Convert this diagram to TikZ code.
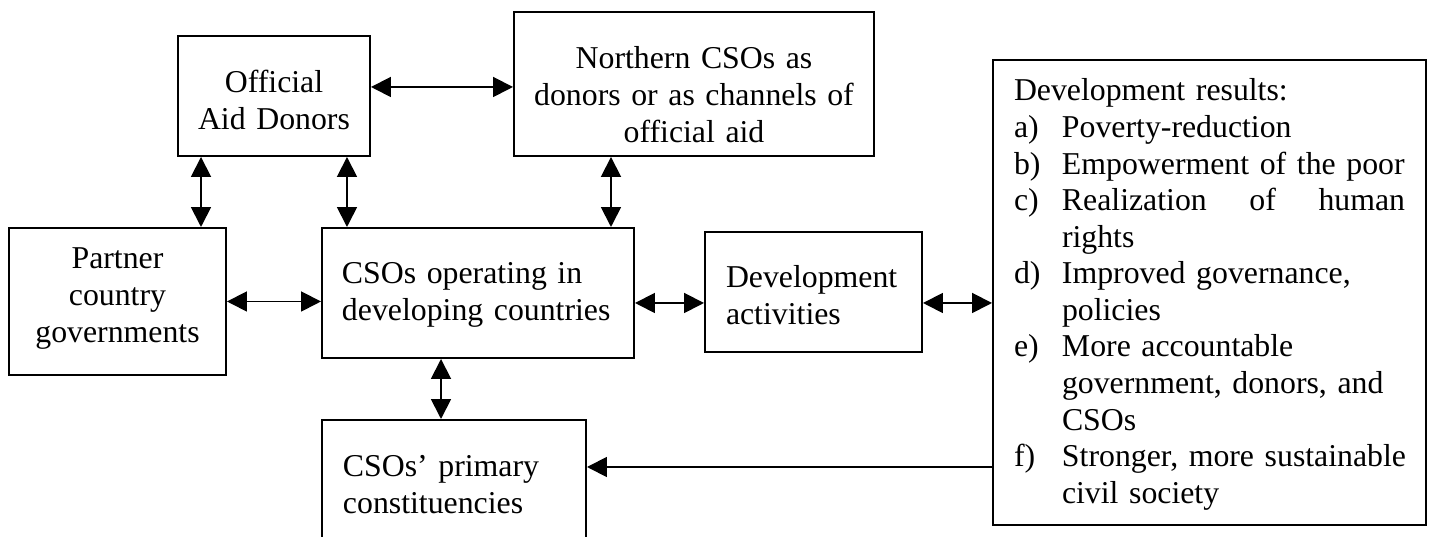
\documentclass[tikz,border=0pt]{standalone}
\usepackage{fontspec}
\setmainfont{Liberation Serif}
\usetikzlibrary{arrows.meta,calc}
\newlength\pxl
\setlength\pxl{0.3774pt}
\newcommand\topr[1]{\rule{0pt}{#1\pxl}}
\newcommand\botr[1]{\rule[-#1\pxl]{0pt}{#1\pxl}}
\newcommand\lab[1]{\makebox[48\pxl][l]{#1}}
\newcommand\itm[2]{\mbox{\lab{#1}#2}}
\tikzset{
  box/.style={draw, line width=0.75pt, rectangle, anchor=north west, inner ysep=0pt,
    font=\fontsize{12pt}{13.8pt}\selectfont},
  conn/.style={line width=0.7pt, <->},
  conn1/.style={line width=0.7pt, ->},
}
\begin{document}
\begin{tikzpicture}[x=0.3774pt, y=-0.3774pt, >={Triangle[length=7.5pt,width=7.5pt]}]
\useasboundingbox (0,0) rectangle (1429,537);
\clip (0,0) rectangle (1429,537);

\node[box, align=center, text width=172*\pxl, inner xsep=10*\pxl] (oad) at (177,35)
  {\topr{57}Official\\Aid Donors\botr{26.43}};
\node[box, align=center, text width=340*\pxl, inner xsep=10*\pxl] (north) at (513,11)
  {\topr{57}Northern CSOs as\\donors or as channels of\\official aid\botr{13.86}};
\node[box, align=center, text width=197*\pxl, inner xsep=10*\pxl] (partner) at (8,227)
  {\topr{41}Partner\\country\\governments\botr{32.86}};
\node[box, align=left, text width=272*\pxl, inner xsep=20*\pxl] (csos) at (321,227)
  {\topr{56}CSOs operating in\\developing countries\botr{37.43}};
\node[box, align=left, text width=175*\pxl, inner xsep=21*\pxl] (dev) at (704,231)
  {\topr{56}Development\\activities\botr{27.43}};
\node[box, align=left, text width=222*\pxl, inner xsep=21*\pxl] (prim) at (321,419)
  {\topr{57}CSOs’ primary\\constituencies\botr{50}};
\node[box, align=left, text width=391*\pxl, inner xsep=21*\pxl] (res) at (992,59)
  {\topr{41}\mbox{Development results:}\\
   \itm{a)}{Poverty-reduction}\\
   \itm{b)}{Empowerment of the poor}\\
   \itm{c)}{\makebox[343\pxl][l]{Realization\hfill of\hfill human}}\\
   \itm{}{rights}\\
   \itm{d)}{Improved governance,}\\
   \itm{}{policies}\\
   \itm{e)}{More accountable}\\
   \itm{}{government, donors, and}\\
   \itm{}{CSOs}\\
   \itm{f)}{Stronger, more sustainable}\\
   \itm{}{civil society}\botr{21.73}};

\draw[conn] ($(oad.east)+(0,-9)$) coordinate (a1) -- (a1 -| north.west);
\draw[conn] ($(oad.south west)+(24,0)$) coordinate (a2) -- (a2 |- partner.north);
\draw[conn] ($(oad.south east)+(-24,0)$) coordinate (a3) -- (a3 |- csos.north);
\draw[conn] ($(csos.north east)+(-24,0)$) coordinate (a4) -- (a4 |- north.south);
\draw[conn] (partner.east) -- (partner.east -| csos.west);
\draw[conn] ($(csos.east)+(0,10)$) coordinate (a6) -- (a6 -| dev.west);
\draw[conn] ($(dev.east)+(0,11)$) coordinate (a7) -- (a7 -| res.west);
\draw[conn] ($(csos.south west)+(120,0)$) coordinate (a8) -- (a8 |- prim.north);
\draw[conn1] ($(res.north west)+(0,408)$) coordinate (a9) -- (a9 -| prim.east);
\end{tikzpicture}
\end{document}
